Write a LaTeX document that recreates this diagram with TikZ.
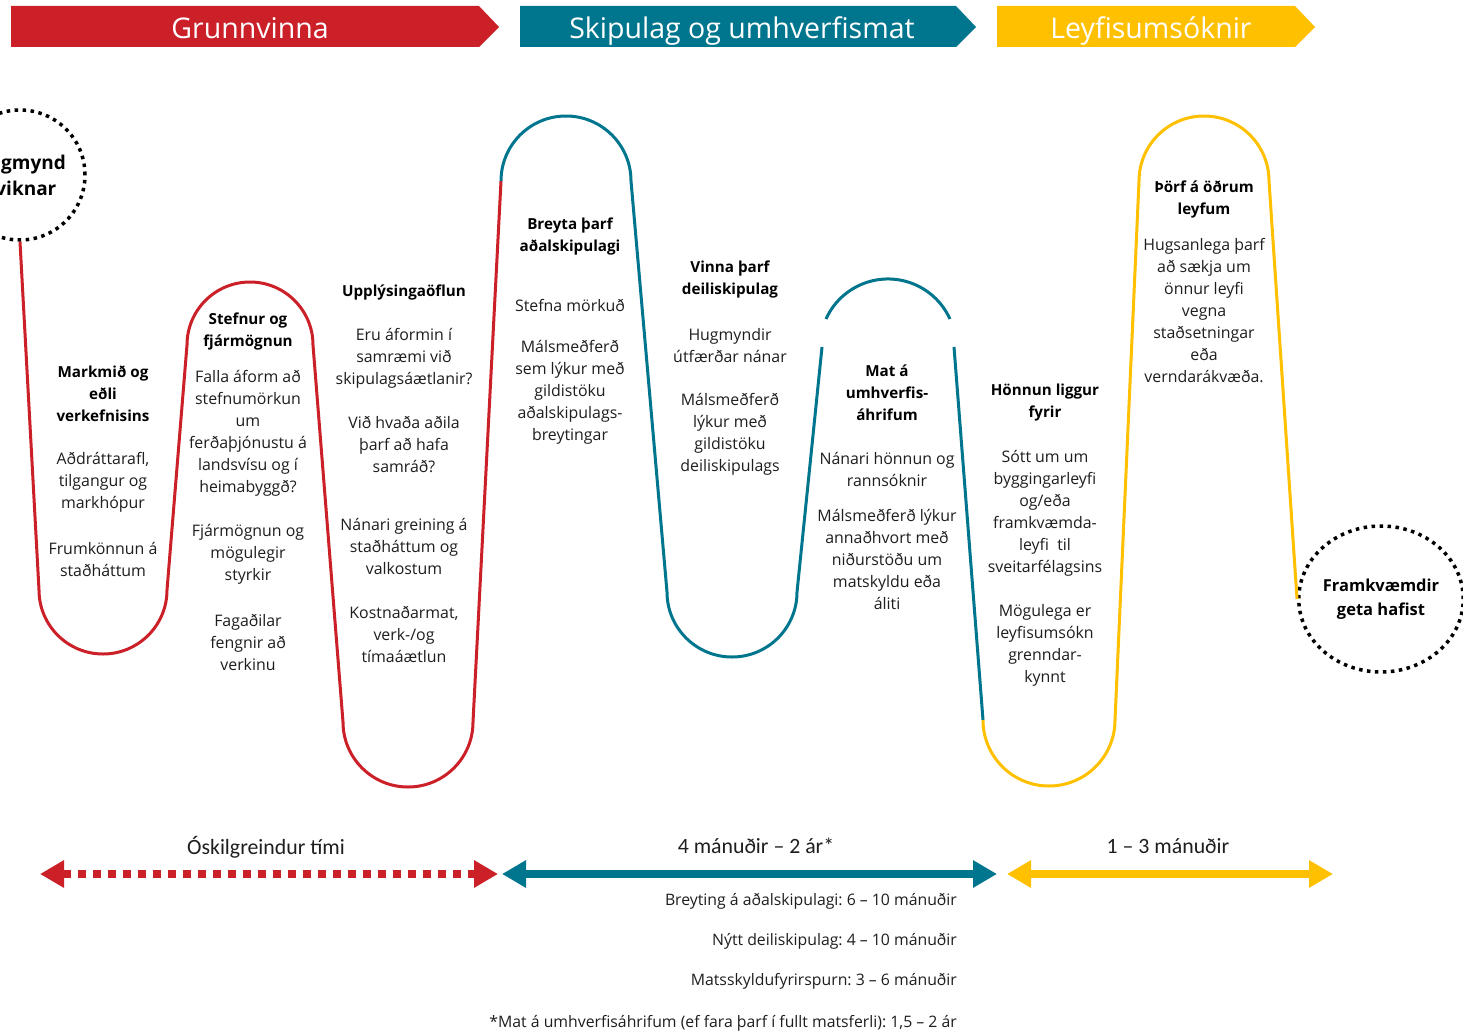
\documentclass[tikz,border=0pt]{standalone}
\usepackage{fontspec}
\setmainfont{Open Sans}
\newfontfamily\calib{Carlito}
\usetikzlibrary{arrows.meta,shapes.geometric}
\definecolor{rd}{RGB}{204,32,41}
\definecolor{tl}{RGB}{0,118,142}
\definecolor{yl}{RGB}{255,192,0}
\definecolor{txt}{RGB}{30,30,30}
\frenchspacing
\begin{document}
\begin{tikzpicture}[x=1pt,y=-1pt,
  wave/.style={line width=3pt},
  body/.style={align=center, inner sep=0pt, text=txt, font=\fontsize{15.9}{22}\selectfont},
  ttl/.style={align=center, inner sep=0pt, text=black, font=\fontsize{15.2}{22}\selectfont\bfseries},
  hdr/.style={text=white, font=\fontsize{28.5}{30}\selectfont, inner sep=0pt, anchor=base},
  dur/.style={line width=8pt, {Triangle[length=24pt,width=26pt]}-{Triangle[length=24pt,width=26pt]}},
  durlbl/.style={font=\calib\fontsize{21.8}{24}\selectfont, text=txt, inner sep=0pt},
  note/.style={font=\fontsize{15.8}{18}\selectfont, text=txt, inner sep=0pt, anchor=base east},
  endpt/.style={draw=black, line width=3.5pt, dash pattern=on 3.5pt off 4.5pt, align=center, inner sep=0pt}
]
\fill[white] (0,0) rectangle (1463,1033);
\useasboundingbox (0,0) rectangle (1463,1033);

% header bars
\fill[rd] (11,6) -- (479,6) -- (499,27) -- (479,47) -- (11,47) -- cycle;
\fill[tl] (520,6) -- (956,6) -- (976,27) -- (956,47) -- (520,47) -- cycle;
\fill[yl] (997,6) -- (1295,6) -- (1315,27) -- (1295,47) -- (997,47) -- cycle;
\node[hdr] (h1) at (250,38) {Grunnvinna};
\node[hdr] (h2) at (742,38) {Skipulag og umhverfismat};
\node[hdr] (h3) at (1151,38) {Leyfisumsóknir};

% start and end
\node[endpt, circle, minimum size=130pt, font=\fontsize{19}{26}\selectfont\bfseries] (start) at (20,175) {Hugmynd\\kviknar};
\node[endpt, ellipse, minimum width=160pt, minimum height=146pt, font=\fontsize{16.5}{24}\selectfont\bfseries] (finish) at (1381,599) {Framkvæmdir\\geta hafist};

% wave
\draw[wave, rd] (start.south) -- (39,590) arc[start angle=180, end angle=360, radius=64pt]
  -- (187,345) arc[start angle=180, end angle=0, radius=63pt]
  -- (343,722) arc[start angle=180, end angle=360, radius=65pt]
  -- (501,181);
\draw[wave, tl] (501,181) arc[start angle=180, end angle=0, radius=65pt]
  -- (667,592) arc[start angle=180, end angle=360, radius=65pt]
  -- (822,347);
\draw[wave, tl] (826,319) arc[start angle=155.7, end angle=24.3, radius=68pt];
\draw[wave, tl] (954,347) -- (983,720);
\draw[wave, yl] (983,720) arc[start angle=180, end angle=360, radius=66pt]
  -- (1139,181) arc[start angle=180, end angle=0, radius=65pt]
  -- (finish.west);

% block 1
\node[ttl] (p1a) at (103,394) {Markmið og\\eðli\\verkefnisins};
\node[body] (p1b) at (103,482) {Aðdráttarafl,\\tilgangur og\\markhópur};
\node[body] (p1c) at (103,559) {Frumkönnun á\\staðháttum};
% block 2
\node[ttl] (p2a) at (248,332) {Stefnur og\\fjármögnun};
\node[body] (p2b) at (248,433) {Falla áform að\\stefnumörkun\\um\\ferðaþjónustu á\\landsvísu og í\\heimabyggð?};
\node[body] (p2c) at (248,554) {Fjármögnun og\\mögulegir\\styrkir};
\node[body] (p2d) at (248,642) {Fagaðilar\\fengnir að\\verkinu};
% block 3
\node[ttl] (p3a) at (404,292) {Upplýsingaöflun};
\node[body] (p3b) at (404,358) {Eru áformin í\\samræmi við\\skipulagsáætlanir?};
\node[body] (p3c) at (404,445) {Við hvaða aðila\\þarf að hafa\\samráð?};
\node[body] (p3d) at (404,546) {Nánari greining á\\staðháttum og\\valkostum};
\node[body] (p3e) at (404,634) {Kostnaðarmat,\\verk-/og\\tímaáætlun};
% block 4
\node[ttl] (p4a) at (570,237) {Breyta þarf\\aðalskipulagi};
\node[body] (p4b) at (570,305) {Stefna mörkuð};
\node[body] (p4c) at (570,392) {Málsmeðferð\\sem lýkur með\\gildistöku\\aðalskipulags-\\breytingar};
% block 5
\node[ttl] (p5a) at (730,280) {Vinna þarf\\deiliskipulag};
\node[body] (p5b) at (730,346) {Hugmyndir\\útfærðar nánar};
\node[body] (p5c) at (730,434) {Málsmeðferð\\lýkur með\\gildistöku\\deiliskipulags};
% block 6
\node[ttl] (p6a) at (887,393) {Mat á\\umhverfis-\\áhrifum};
\node[body] (p6b) at (887,469) {Nánari hönnun og\\rannsóknir};
\node[body] (p6c) at (887,559) {Málsmeðferð lýkur\\annaðhvort með\\niðurstöðu um\\matskyldu eða\\áliti};
% block 7
\node[ttl] (p7a) at (1045,403) {Hönnun liggur\\fyrir};
\node[body] (p7b) at (1045,513) {Sótt um um\\byggingarleyfi\\og/eða\\framkvæmda-\\leyfi~ til\\sveitarfélagsins};
\node[body] (p7c) at (1045,645) {Mögulega er\\leyfisumsókn\\grenndar-\\kynnt};
% block 8
\node[ttl] (p8a) at (1204,199) {Þörf á öðrum\\leyfum};
\node[body] (p8b) at (1204,311) {Hugsanlega þarf\\að sækja um\\önnur leyfi\\vegna\\staðsetningar\\eða\\verndarákvæða.};

% duration arrows
\coordinate (r1) at (40,874); \coordinate (r2) at (498,874);
\coordinate (t1) at (502,874); \coordinate (t2) at (997,874);
\coordinate (y1) at (1007,874); \coordinate (y2) at (1333,874);
\draw[dur, rd, dash pattern=on 8pt off 7pt] (r1) -- (r2);
\draw[dur, tl] (t1) -- (t2);
\draw[dur, yl] (y1) -- (y2);
\node[durlbl] (l1) at (266,847) {Óskilgreindur tími};
\node[durlbl] (l2) at (756,846) {4 mánuðir – 2 ár*};
\node[durlbl] (l3) at (1168,846) {1 – 3 mánuðir};

% notes
\node[note] (n1) at (957,905) {Breyting á aðalskipulagi: 6 – 10 mánuðir};
\node[note] (n2) at (957,945) {Nýtt deiliskipulag: 4 – 10 mánuðir};
\node[note] (n3) at (957,985) {Matsskyldufyrirspurn: 3 – 6 mánuðir};
\node[note] (n4) at (957,1027) {*Mat á umhverfisáhrifum (ef fara þarf í fullt matsferli): 1,5 – 2 ár};
\end{tikzpicture}
\end{document}
